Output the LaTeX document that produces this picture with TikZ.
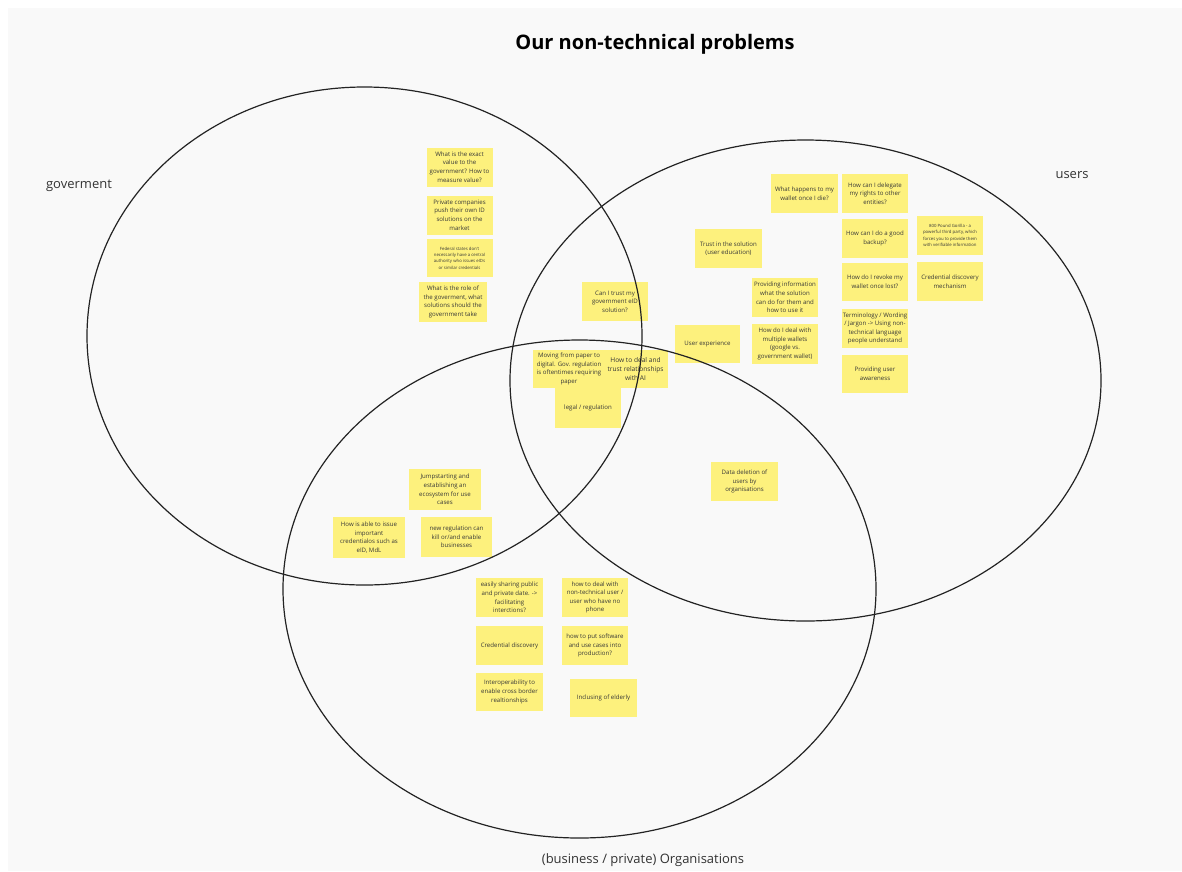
\documentclass[tikz,border=0pt]{standalone}
\usepackage{fontspec}
\setmainfont{Open Sans}
\definecolor{bg}{RGB}{249,249,249}
\definecolor{notey}{RGB}{253,241,125}
\definecolor{notetext}{RGB}{55,55,55}
\definecolor{ring}{RGB}{35,35,35}
\tikzset{
  note/.style={fill=notey, draw=none, inner sep=1pt, align=center, text=notetext,
    font=\fontsize{6.1}{8.6}\selectfont, minimum width=66pt, minimum height=39pt},
  tiny/.style={font=\fontsize{4.3}{6.3}\selectfont},
  ring/.style={draw=ring, line width=1.2pt},
  lbl/.style={font=\fontsize{13}{15}\selectfont, text=black!80}
}
\begin{document}
\begin{tikzpicture}[x=1pt,y=-1pt]
\useasboundingbox (0,0) rectangle (1182,871);
\fill[bg] (8,8) rectangle (1182,871);
\node[font=\bfseries\fontsize{20}{22}\selectfont] (title) at (655,44) {Our non-technical problems};
% government notes
\node[note] (n1) at (459.5,167) {What is the exact\\value to the\\government? How to\\measure value?};
\node[note] (n2) at (459.5,215) {Private companies\\push their own ID\\solutions on the\\market};
\node[note,tiny,minimum height=38pt] (n3) at (459.5,258) {Federal states don't\\necessarily have a central\\authority who issues eIDs\\or similar credentials};
\node[note,minimum width=68pt,minimum height=40pt] (n4) at (453,302) {What is the role of\\the goverment, what\\solutions should the\\government take};
% centre
\node[note] (n5) at (615,301.5) {Can I trust my\\government eID\\solution?};
\node[note,minimum width=72pt,minimum height=38pt] (n6) at (569,369) {Moving from paper to\\digital. Gov. regulation\\is oftentimes requiring\\paper};
\node[note,minimum width=64pt,minimum height=38pt,font=\fontsize{6.6}{8.8}\selectfont] (n7) at (635.5,369) {How to deal and\\trust relationships\\with AI};
\node[note,minimum height=40pt] (n8) at (588,408) {legal / regulation};
\node[note,minimum width=65pt,minimum height=38pt] (n9) at (707.5,344) {User experience};
% users
\node[note,minimum width=67pt] (n10) at (728.5,248.5) {Trust in the solution\\(user education)};
\node[note,minimum width=67pt] (n11) at (804.5,193.5) {What happens to my\\wallet once I die?};
\node[note] (n12) at (785,297.5) {Providing information\\what the solution\\can do for them and\\how to use it};
\node[note,minimum height=40pt] (n13) at (785,344) {How do I deal with\\multiple wallets\\(google vs.\\government wallet)};
\node[note] (n14) at (875,193.5) {How can I delegate\\my rights to other\\entities?};
\node[note] (n15) at (875,238.5) {How can I do a good\\backup?};
\node[note,minimum height=38pt] (n16) at (875,282) {How do I revoke my\\wallet once lost?};
\node[note] (n17) at (875,328.5) {Terminology / Wording\\/ Jargon -> Using non-\\technical language\\people understand};
\node[note,minimum height=38pt] (n18) at (875,374) {Providing user\\awareness};
\node[note,tiny] (n19) at (950,235.5) {800 Pound Gorilla - a\\powerful third party, which\\forces you to provide them\\with verifiable information};
\node[note] (n20) at (950,281.5) {Credential discovery\\mechanism};
% organisations
\node[note,minimum width=72pt,minimum height=41pt] (n21) at (445,489.5) {Jumpstarting and\\establishing an\\ecosystem for use\\cases};
\node[note,minimum width=72pt,minimum height=41pt] (n22) at (369,537.5) {How is able to issue\\important\\credentialos such as\\eID, MdL};
\node[note,minimum width=71pt,minimum height=40pt] (n23) at (456.5,537) {new regulation can\\kill or/and enable\\businesses};
\node[note,minimum width=67pt] (n24) at (744.5,481.5) {Data deletion of\\users by\\organisations};
\node[note,minimum width=67pt] (n25) at (509.5,597.5) {easily sharing public\\and private date. ->\\facilitating\\interctions?};
\node[note] (n26) at (595,597.5) {how to deal with\\non-technical user /\\user who have no\\phone};
\node[note,minimum width=67pt] (n27) at (509.5,645.5) {Credential discovery};
\node[note] (n28) at (595,645.5) {how to put software\\and use cases into\\production?};
\node[note,minimum width=67pt,minimum height=38pt] (n29) at (509.5,692) {Interoperability to\\enable cross border\\realtionships};
\node[note,minimum width=67pt,minimum height=38pt] (n30) at (603.5,698) {Inclusing of elderly};
% circles
\draw[ring] (364.5,336) ellipse [x radius=277.5, y radius=249];
\draw[ring] (805.5,380.5) ellipse [x radius=295.5, y radius=240.5];
\draw[ring] (579.5,589) ellipse [x radius=296.5, y radius=249];
\node[lbl] (gov) at (79,186) {goverment};
\node[lbl] (usr) at (1072,175) {users};
\node[lbl] (org) at (643,860) {(business / private) Organisations};
\end{tikzpicture}
\end{document}
